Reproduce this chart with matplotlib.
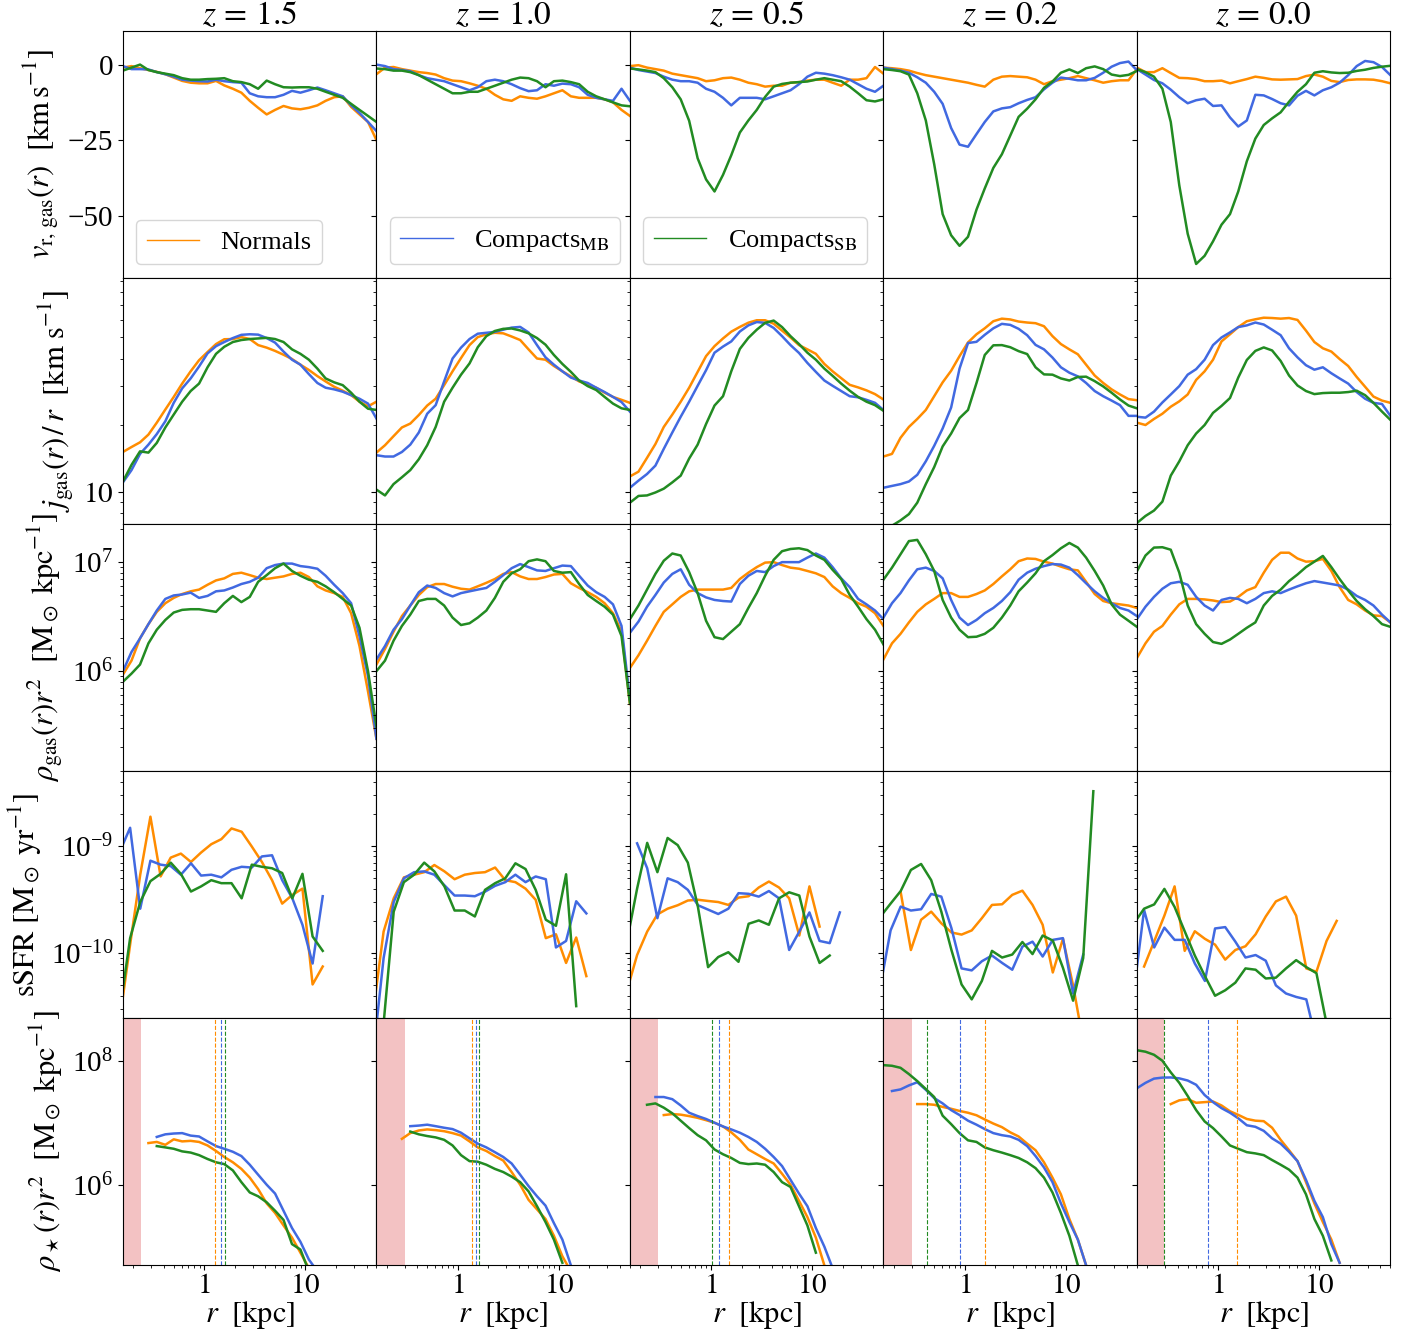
import matplotlib
matplotlib.use("Agg")
import matplotlib.pyplot as plt
import numpy as np
from matplotlib import ticker
from matplotlib.lines import Line2D

nan = np.nan

REDSHIFTS = ["1.5", "1.0", "0.5", "0.2", "0.0"]
LABELS = ["Normals", r"Compacts$_{\rm MB}$", r"Compacts$_{\rm SB}$"]
COLORS = ["darkorange", "royalblue", "forestgreen"]

# radial bins [kpc]
R = [0.158, 0.192, 0.233, 0.282, 0.341, 0.414, 0.501, 0.607, 0.736, 0.891,
     1.08, 1.31, 1.58, 1.92, 2.33, 2.82, 3.41, 4.14, 5.01, 6.07, 7.36, 8.91,
     10.8, 13.1, 15.8, 19.2, 23.3, 28.2, 34.1, 41.4, 50.1]
R_SSFR = [0.148, 0.186, 0.234, 0.295, 0.372, 0.468, 0.589, 0.741, 0.933, 1.175,
          1.479, 1.862, 2.344, 2.951, 3.715, 4.677, 5.888, 7.413, 9.333, 11.75,
          14.79, 18.62]

# radial gas velocity [km/s], one list per redshift
VR_NORMALS = [
    [-1, -0.5, -1.2, -1.8, -2.4, -3.2, -4.3, -5.4, -6, -6.2, -6.2, -5.4, -6.9, -8, -9.3, -12, -14.3, -16.5, -15, -13.7, -14.5, -14.8, -14.3, -13.5, -12, -10.8, -10.5, -14, -16.5, -19, -25],
    [-3.2, -1, -0.8, -1.5, -2, -2.5, -2.8, -3.3, -4.5, -5.3, -5.5, -6.2, -7, -8, -10, -11.5, -12, -10.5, -11, -11.3, -10.5, -9.5, -8.5, -10.5, -11, -11, -11, -11.5, -12.5, -15, -17],
    [-0.5, -0.2, -1, -1.5, -2, -3, -3.5, -4, -4.5, -5.5, -5.2, -4.5, -4.3, -5, -6, -6.5, -7.3, -7, -7, -6, -5.8, -5.3, -5, -5, -6, -7, -5, -5, -4.5, -0.8, -3],
    [-1, -1.2, -1.5, -2, -2.8, -3.5, -4, -4.5, -5, -5.5, -6, -6.7, -7.3, -5, -4, -3.8, -4, -4.2, -5, -6.5, -5.5, -5, -4.5, -3.8, -4.5, -5.2, -6, -5.5, -5.2, -5.2, -1.5],
    [-1, -2.5, -2.5, -1.2, -2.8, -4.4, -4.5, -4.8, -5.5, -5.5, -5.3, -6.2, -5.5, -4.8, -4, -4.4, -4.9, -5, -4.9, -4.8, -3.8, -3.3, -4, -5.4, -5.8, -5.1, -4.9, -4.9, -5, -5.5, -6.2],
]
VR_MB = [
    [-0.5, -1.5, -1.5, -1.6, -2.5, -3.2, -4, -5, -5.3, -5.5, -5.6, -5, -5.5, -5.8, -6, -9.5, -10.5, -10.8, -10.8, -10, -8.7, -9.3, -8.5, -7.6, -8.5, -9.5, -10.5, -13.5, -16, -19, -22],
    [0, -0.5, -1.5, -1.8, -2.2, -3.5, -4.5, -5, -5.5, -6.5, -7.5, -8.5, -7.5, -5.5, -5, -5.5, -6.5, -7.8, -8.8, -8.5, -6.5, -7, -6.3, -6.5, -7.5, -10, -11, -11.5, -12, -8, -12],
    [-1, -1.8, -2.3, -2.8, -4, -5, -5.5, -5.5, -6, -8, -9, -11, -13.5, -11, -11, -11, -11.5, -10.5, -9.5, -8.5, -6.5, -4, -2.7, -3, -3.5, -4.2, -5, -6.5, -8, -9, -7],
    [-1, -1.5, -2, -2.7, -4.2, -6, -9, -13, -21, -26.5, -27.2, -23, -19, -15.5, -14.5, -14.1, -12.8, -11.7, -10.8, -8.2, -6, -4.3, -4.7, -5.2, -5.2, -4.4, -2.7, -0.7, 0.5, 1, -1.9],
    [-1.5, -3.3, -5.1, -6.2, -8.3, -10.8, -12.8, -11.8, -11.3, -13.7, -13.5, -17.5, -20.5, -18.5, -10, -10.2, -11.4, -12.8, -13.5, -10.3, -8.7, -10.2, -8.5, -7.5, -6, -3.5, -0.5, 1.2, 0.8, -0.8, -3.5],
]
VR_SB = [
    [-2, -1, 0, -1.8, -2.5, -3, -3.5, -4.5, -5, -5, -4.8, -4.7, -4.5, -5.5, -5.8, -6.5, -8, -5.3, -6.5, -7.5, -7.6, -7.5, -7.5, -8, -9, -10, -11, -13, -15, -17, -19],
    [-1.3, -1.5, -2, -2, -2.5, -3.5, -5, -6.5, -8, -9.5, -9.5, -9, -9, -8, -7, -6, -5, -4.3, -4.5, -5.5, -7.5, -5.5, -5.3, -5.8, -6.5, -9, -10.5, -11.5, -12.5, -13.5, -13.8],
    [-1.3, -1.6, -2, -2.5, -4.5, -7.5, -11.5, -18.6, -31, -38, -42, -36.5, -30, -22.5, -18.5, -15, -10.7, -7.3, -6.4, -6, -5.8, -5.6, -5, -4.5, -5, -5.5, -7.3, -9.5, -11.8, -12.2, -11.5],
    [-1.5, -1.8, -2.2, -3.3, -9.5, -18.5, -33, -49.5, -56.5, -60, -57, -48, -41, -34.2, -29.7, -23.5, -17.3, -14.6, -11.5, -7.7, -5.6, -2.7, -1.6, -2.8, -1.2, -0.6, -1.5, -3.3, -3.8, -3.4, -2.1],
    [-1.5, -2.5, -4, -8, -19, -40, -56, -66, -63.3, -58.5, -53, -49.5, -42, -32, -24.5, -20, -17.8, -15.8, -12.3, -9, -6.5, -2.7, -2.2, -2.6, -2.8, -2.7, -2.1, -1.7, -1.1, -0.7, -0.4],
]

# specific angular momentum over radius [km/s]
J_NORMALS = [
    [15.1, 15.9, 16.7, 18.1, 20.5, 23.5, 26.8, 30.8, 35, 39.3, 42.8, 46.5, 48.9, 49, 50, 49, 46, 44.8, 43.3, 41.6, 39.8, 37.5, 35.5, 33.3, 31.5, 29.8, 28.6, 27.3, 25.5, 24.3, 25.5],
    [15, 16.2, 17.8, 19.5, 20.3, 22.2, 24.5, 26.3, 30.3, 35, 40.2, 46, 50, 51.5, 52.3, 52, 50.3, 48.5, 44, 40, 39.5, 37, 35, 33.2, 31.5, 30.5, 29.5, 28, 26.8, 26, 25.2],
    [11.7, 12.3, 14.2, 16.4, 19.6, 22.3, 25.5, 29.5, 34.8, 41, 45.5, 49.3, 52.9, 55.6, 58.1, 59.6, 59.6, 57.5, 53.5, 49.8, 46, 44, 42, 37.8, 35, 32.6, 30.4, 29.6, 28.7, 27.6, 26.1],
    [14.4, 14.8, 17.5, 19.6, 21.3, 23.4, 27, 31.2, 35.2, 41, 47.3, 51.5, 54.8, 59, 60.6, 60.1, 58.8, 58.2, 57.8, 56, 50.5, 46.5, 44, 41.8, 37.5, 33.5, 31, 29, 27.5, 26.2, 25.9],
    [20.5, 20, 21.3, 22.5, 24.2, 25.6, 27.5, 32, 35, 39.5, 47.8, 51.5, 55.5, 59, 60.2, 61.2, 61, 60.6, 61, 59.8, 53.5, 47.5, 44.5, 43, 39.8, 37, 33, 29.8, 26.9, 25.8, 25.2],
]
J_MB = [
    [11, 12.5, 14.8, 16.3, 18.2, 20.8, 25.2, 29.3, 32.5, 36.8, 42.2, 45.5, 47.5, 49.5, 51.2, 51.5, 51.3, 49.5, 47.2, 43, 39.5, 37.5, 34, 31, 29.5, 29, 28.3, 27.3, 26.3, 25, 21.4],
    [14.6, 14.4, 14.4, 15.1, 16.3, 18.5, 22.5, 24.6, 31.5, 40, 44.8, 49, 51.8, 52.3, 52.8, 54, 55.2, 55.6, 52.5, 46, 40.5, 37.5, 35, 32.8, 31.8, 31, 29.5, 28.2, 26.8, 25.4, 23],
    [10.4, 11.2, 12, 13.1, 15.6, 18.5, 21.8, 25.5, 30.1, 35.4, 42.5, 45.3, 47.8, 53, 56.5, 58.5, 58, 55, 50.5, 46, 42.4, 38.2, 34.8, 31.8, 30.1, 28.5, 27, 26.7, 26, 25.2, 23.4],
    [10.4, 10.6, 10.8, 11.1, 11.9, 13.7, 16.1, 19.3, 24, 36, 47, 47.6, 51.2, 54.8, 57.4, 56.8, 54.5, 51, 46.1, 44, 40.4, 36.5, 34.5, 33.2, 31, 28.5, 27, 25.8, 24.6, 22, 22],
    [21.8, 21.6, 23, 25.3, 27.5, 30, 33.8, 35.8, 39.5, 46, 49.8, 52.5, 55.5, 56.5, 58.2, 57, 54, 51, 44.5, 40.5, 37.3, 35.6, 36.5, 34.3, 32.5, 30.8, 28.2, 26.3, 25.2, 24.9, 22],
]
J_SB = [
    [11.1, 13.2, 15.2, 15, 16.6, 19.5, 22.3, 25.5, 28.5, 30.8, 36.5, 42, 45.2, 47.5, 48.5, 49, 49.3, 49.6, 49, 47.5, 44, 42, 39.5, 36, 32.5, 31.2, 30.3, 28, 25.5, 23.7, 23.4],
    [10.2, 9.6, 10.8, 11.6, 12.5, 14, 16.2, 19.6, 25.5, 29.5, 33.8, 38, 45, 50.5, 53.3, 54.5, 54.7, 53.6, 52, 49.5, 46.2, 41.5, 37.8, 34.8, 31.8, 30, 28.8, 26.8, 25, 23.8, 23.4],
    [8.9, 9.55, 9.6, 9.9, 10.3, 11, 11.8, 14.1, 16.3, 20.2, 24.5, 27, 35, 44.2, 49.6, 54, 58, 59.4, 55.5, 50.5, 46.5, 42.5, 39.5, 36, 33.4, 30.8, 28.6, 26.8, 25.5, 24.6, 23.2],
    [6.8, 7.0, 7.4, 7.9, 8.9, 10.8, 12.9, 16, 18.3, 21.5, 23.4, 31, 41.5, 45.9, 46, 45, 43.2, 41.9, 36.5, 33.9, 33.8, 32.5, 31.8, 33, 33.1, 31.6, 29.9, 28, 26.1, 24.5, 23.8],
    [7.2, 7.75, 8.2, 9, 11.8, 13.7, 16.2, 18.3, 20, 22.7, 24.4, 26.5, 32.8, 39.4, 43.3, 44.9, 43.5, 39, 33.5, 30.2, 28.5, 27.6, 27.9, 28, 28, 28.2, 28.6, 27.3, 25.2, 23, 21.1],
]

# gas density times r^2 [1e6 Msun/kpc]
RHO_GAS_NORMALS = [
    [0.93, 1.25, 2.0, 2.7, 3.5, 4.2, 4.7, 5.1, 5.4, 5.6, 6.2, 6.8, 7.1, 7.8, 8.0, 7.6, 7.2, 7.0, 7.2, 7.4, 7.8, 8.0, 7.3, 6.0, 5.5, 5.2, 4.8, 3.4, 1.7, 0.65, 0.24],
    [1.15, 1.6, 2.3, 3.2, 4.0, 5.0, 5.9, 6.3, 6.3, 5.95, 5.7, 5.6, 6.0, 6.46, 7.0, 7.8, 8.1, 7.4, 7.0, 7.0, 7.3, 7.7, 7.8, 6.4, 5.8, 5.3, 4.8, 4.2, 3.4, 2.3, 0.5],
    [1.07, 1.4, 1.9, 2.6, 3.5, 4.1, 4.8, 5.4, 5.6, 5.6, 5.6, 5.6, 5.8, 7.0, 8.0, 9.0, 9.9, 10, 9.4, 8.9, 8.7, 8.3, 7.9, 7.3, 6.0, 5.2, 4.7, 4.2, 3.9, 3.4, 2.6],
    [1.28, 1.8, 2.2, 2.8, 3.5, 4.1, 4.6, 5.2, 5.2, 4.8, 4.8, 5.1, 5.5, 6.3, 7.4, 8.6, 10.2, 10.8, 10.7, 10.1, 9.7, 9.1, 8.6, 8.4, 6.6, 5.1, 4.4, 4.2, 4.1, 4.0, 3.8],
    [1.32, 1.8, 2.3, 2.6, 3.3, 4.1, 4.6, 4.6, 4.55, 4.45, 4.3, 4.35, 4.8, 5.5, 5.9, 8.0, 10.5, 12.2, 12.2, 10.8, 10.1, 10.2, 10.7, 8.3, 5.9, 4.5, 4.1, 3.6, 3.25, 3.2, 2.8],
]
RHO_GAS_MB = [
    [1.0, 1.5, 2.0, 2.7, 3.6, 4.6, 4.95, 5.05, 5.25, 4.7, 4.9, 5.4, 5.5, 5.85, 6.3, 6.6, 7.2, 8.8, 9.4, 9.7, 9.7, 9.2, 9.0, 8.7, 7.5, 6.2, 5.2, 4.2, 2.1, 0.9, 0.24],
    [1.28, 1.7, 2.4, 3.0, 4.0, 5.3, 6.1, 5.8, 5.2, 4.85, 5.2, 5.4, 5.6, 5.8, 6.6, 7.6, 8.8, 9.6, 9.0, 8.4, 8.3, 8.8, 9.3, 9.2, 7.5, 6.1, 5.3, 4.8, 4.1, 2.6, 0.55],
    [2.25, 2.85, 3.9, 5.0, 6.5, 7.8, 8.6, 6.2, 5.2, 4.75, 4.5, 4.4, 4.35, 6.3, 7.5, 8.3, 8.1, 9.2, 10, 10, 10, 11, 12, 11, 9.0, 7.1, 5.9, 4.6, 4.1, 3.6, 3.0],
    [3.1, 4.2, 5.2, 6.8, 8.6, 8.9, 8.3, 7.1, 4.5, 3.1, 2.65, 2.95, 3.4, 3.8, 4.4, 5.3, 6.9, 8.0, 8.7, 9.2, 9.6, 9.5, 8.9, 7.6, 6.4, 5.4, 4.7, 4.2, 3.8, 3.6, 3.2],
    [3.0, 3.9, 4.8, 5.7, 6.4, 6.6, 6.2, 4.8, 4.0, 3.6, 4.5, 4.7, 4.6, 4.2, 4.6, 5.2, 5.4, 5.2, 5.6, 6.0, 6.4, 6.7, 6.5, 6.3, 6.1, 5.6, 4.9, 4.5, 4.0, 3.3, 2.8],
]
RHO_GAS_SB = [
    [0.8, 0.95, 1.15, 1.8, 2.4, 2.95, 3.45, 3.65, 3.7, 3.7, 3.6, 3.5, 4.2, 4.9, 4.3, 4.8, 6.6, 7.6, 8.8, 9.7, 8.3, 7.5, 6.9, 6.6, 6.0, 5.3, 4.6, 4.0, 2.5, 1.0, 0.31],
    [1.0, 1.25, 1.9, 2.6, 3.3, 4.4, 4.6, 4.6, 4.0, 3.1, 2.65, 2.75, 3.1, 3.6, 4.7, 6.6, 7.9, 8.6, 10.2, 10.6, 10.2, 8.3, 8.0, 8.1, 6.3, 5.0, 4.4, 3.9, 3.3, 2.1, 0.51],
    [3.0, 4.0, 5.6, 7.8, 10.3, 12.0, 11.5, 8.1, 5.2, 2.9, 2.05, 1.97, 2.3, 2.7, 3.8, 5.2, 7.5, 10.5, 12.6, 13.2, 13.4, 12.9, 11.5, 10.5, 8.5, 7.0, 5.0, 3.9, 3.0, 2.4, 1.76],
    [6.9, 8.9, 11.8, 15.6, 16.0, 11.8, 8.3, 4.5, 3.1, 2.4, 2.05, 2.07, 2.2, 2.5, 3.1, 4.0, 5.4, 6.5, 7.9, 10.2, 11.6, 13.4, 15.0, 13.6, 11.0, 8.3, 6.1, 4.1, 3.3, 2.9, 2.55],
    [8.25, 11.5, 13.6, 13.7, 13.0, 8.0, 4.0, 2.7, 2.2, 1.85, 1.78, 1.95, 2.2, 2.5, 2.8, 4.0, 4.9, 5.6, 6.7, 7.7, 9.0, 10.1, 11.4, 9.0, 7.0, 5.5, 4.4, 3.7, 3.2, 2.7, 2.55],
]

# specific star formation rate [1e-10 /yr], on R_SSFR
SSFR_NORMALS = [
    [0.25, 1.2, 5.4, 18.8, 5.2, 7.8, 8.5, 7.1, 8.7, 10.4, 11.6, 14.6, 13.6, 9.9, 7.1, 4.8, 2.9, 3.5, 4.0, 0.51, 0.75],
    [0.3, 1.59, 3.25, 5.1, 5.4, 5.7, 6.65, 5.8, 4.9, 5.4, 5.6, 5.7, 6.3, 4.8, 4.6, 4.0, 3.15, 1.38, 1.5, 0.81, 1.4, 0.61],
    [0.45, 0.96, 1.59, 2.3, 2.6, 2.8, 3.1, 3.15, 3.07, 3.0, 2.82, 3.3, 3.4, 4.1, 4.66, 4.1, 3.25, 1.46, 4.2, 1.77],
    [nan, nan, 3.7, 1.07, 2.05, 2.44, 1.9, 1.56, 1.49, 1.63, 2.12, 2.82, 2.86, 3.5, 3.83, 2.82, 1.84, 0.66, 1.36, 0.5, 0.15],
    [nan, 0.75, 1.29, 2.24, 4.2, 1.05, 1.6, 1.36, 1.2, 0.87, 1.07, 1.16, 1.5, 2.2, 3.04, 3.37, 2.24, 0.72, 0.67, 1.3, 2.0],
]
SSFR_MB = [
    [9, 14.8, 2.6, 7.3, 6.7, 6.5, 5.4, 6.9, 5.3, 5.4, 5.1, 6.0, 6.4, 6.3, 8.0, 8.2, 4.8, 3.25, 1.84, 0.8, 3.4],
    [0.12, 0.9, 3.0, 5.0, 5.7, 5.8, 5.4, 4.3, 3.45, 3.45, 3.4, 3.75, 4.25, 4.6, 5.4, 4.6, 5.2, 4.9, 1.13, 1.3, 3.05, 2.35],
    [nan, 10.6, 6.2, 2.12, 5.0, 4.6, 3.9, 2.8, 2.55, 2.32, 2.6, 3.63, 3.58, 3.37, 3.8, 3.25, 1.07, 1.59, 2.4, 1.3, 1.24, 2.4],
    [0.5, 1.63, 2.72, 2.5, 2.57, 3.57, 3.37, 1.71, 0.72, 0.69, 0.84, 0.95, 0.81, 0.7, 1.15, 1.28, 0.93, 1.33, 1.38, 0.42, 0.97],
    [0.45, 2.53, 1.13, 1.73, 1.33, 1.33, 0.8, 0.55, 1.7, 1.75, 1.28, 0.91, 0.96, 0.85, 0.5, 0.42, 0.39, 0.37, 0.15],
]
SSFR_SB = [
    [0.3, 1.38, 3.0, 4.7, 5.5, 7.0, 5.5, 3.76, 4.2, 4.8, 4.5, 4.5, 3.25, 6.7, 6.4, 6.2, 5.6, 3.25, 5.5, 1.43, 1.05],
    [0.02, 0.22, 2.44, 4.6, 5.4, 7.0, 5.8, 4.2, 2.5, 2.5, 2.2, 3.9, 4.5, 5.0, 6.9, 6.1, 3.9, 2.05, 1.8, 5.45, 0.32],
    [1.3, 4.0, 10.7, 5.7, 11.9, 10.2, 7.0, 2.7, 0.74, 0.92, 1.02, 0.83, 1.88, 2.02, 1.84, 3.25, 3.7, 3.45, 1.43, 0.81, 0.95],
    [2.2, 2.9, 3.8, 5.98, 6.8, 4.8, 2.44, 1.07, 0.51, 0.37, 0.55, 1.05, 0.91, 0.97, 1.27, 0.98, 1.46, 1.31, 0.73, 0.36, 0.9, 32.5],
    [1.9, 2.6, 2.85, 3.98, 2.7, 1.6, 0.95, 0.61, 0.4, 0.45, 0.53, 0.72, 0.7, 0.58, 0.59, 0.72, 0.86, 0.74, 0.65, 0.22],
]

# stellar density times r^2 [1e6 Msun/kpc]
RHO_STAR_NORMALS = [
    [nan, nan, nan, 4.7, 4.9, 4.4, 5.4, 5.0, 5.1, 4.9, 4.3, 3.5, 2.8, 2.3, 1.8, 1.3, 0.85, 0.5, 0.35, 0.22, 0.14, 0.08, 0.045],
    [nan, nan, nan, 5.5, 6.8, 7.5, 7.8, 7.6, 7.3, 6.8, 6.2, 5.0, 4.0, 3.5, 2.9, 2.45, 1.6, 1.0, 0.57, 0.4, 0.28, 0.15, 0.07, 0.04],
    [nan, nan, nan, nan, 13.3, 13.8, 13.5, 12.8, 12.0, 11.0, 10.0, 8.7, 7.0, 5.3, 3.7, 3.1, 2.6, 2.2, 1.5, 1.0, 0.55, 0.3, 0.14, 0.05],
    [nan, nan, nan, nan, 20, 20, 19.5, 18, 16.8, 15.5, 14.5, 13.2, 11.3, 9.7, 8.5, 7.0, 6.0, 4.6, 3.6, 2.3, 1.3, 0.7, 0.28, 0.13, 0.05],
    [nan, nan, nan, nan, 20, 23, 24, 21, 21.5, 22, 19, 15.3, 13.4, 11.5, 10.8, 10.6, 8.3, 5.3, 3.6, 2.4, 1.1, 0.5, 0.25, 0.13, 0.055],
]
RHO_STAR_MB = [
    [nan, nan, nan, nan, 5.9, 6.5, 6.7, 6.8, 6.2, 6.0, 5.0, 4.2, 3.8, 3.4, 2.9, 2.1, 1.45, 1.0, 0.72, 0.38, 0.2, 0.12, 0.062, 0.04],
    [nan, nan, nan, nan, 8.8, 9.0, 9.3, 8.8, 8.3, 7.9, 6.9, 5.6, 4.6, 4.0, 3.35, 2.8, 2.2, 1.45, 0.95, 0.65, 0.46, 0.24, 0.13, 0.05],
    [nan, nan, nan, 26, 26, 24, 19, 14.5, 12.8, 11.5, 10, 8.7, 7.8, 6.9, 5.9, 4.9, 3.8, 2.8, 2.0, 1.2, 0.72, 0.45, 0.2, 0.1, 0.045],
    [nan, 32.5, 34.5, 40, 45, 34, 25, 20.5, 16, 13.3, 10.8, 9.3, 7.9, 6.8, 6.3, 6.0, 5.3, 4.2, 2.9, 1.9, 1.1, 0.5, 0.25, 0.13, 0.05],
    [36, 44, 51.5, 53.5, 53.8, 52, 48, 41, 28, 21.5, 17.2, 14.5, 11.8, 9.1, 8.6, 7.4, 5.6, 4.6, 3.4, 2.4, 1.2, 0.55, 0.3, 0.11, 0.055],
]
RHO_STAR_SB = [
    [nan, nan, nan, nan, 4.2, 4.0, 3.8, 3.45, 3.3, 3.0, 2.6, 2.3, 2.15, 1.7, 1.1, 0.75, 0.65, 0.52, 0.38, 0.27, 0.11, 0.09, 0.04],
    [nan, nan, nan, nan, 7.2, 6.5, 6.1, 5.8, 5.3, 4.3, 3.0, 2.4, 2.35, 2.1, 1.8, 1.6, 1.35, 1.1, 0.78, 0.45, 0.25, 0.13, 0.055],
    [nan, nan, 19.5, 20.5, 17.5, 14.2, 10.8, 8.2, 6.3, 5.2, 3.7, 3.1, 2.7, 2.25, 2.15, 2.2, 2.1, 1.6, 1.1, 0.92, 0.45, 0.22, 0.08],
    [85, 83, 77, 61, 47, 35, 26, 13, 9.5, 6.8, 5.2, 4.9, 4.0, 3.6, 3.3, 3.0, 2.7, 2.3, 1.85, 1.3, 0.75, 0.35, 0.15, 0.05],
    [148, 140, 125, 100, 65, 44, 27, 16, 10.5, 8.2, 6.0, 4.3, 3.8, 3.35, 3.2, 3.0, 2.5, 2.1, 1.75, 1.3, 0.7, 0.28, 0.15, 0.06],
]

# half-mass radii [kpc] and softening scale [kpc] per redshift
R_HALF_NORMALS = [1.29, 1.38, 1.49, 1.58, 1.55]
R_HALF_MB = [1.46, 1.51, 1.2, 0.9, 0.8]
R_HALF_SB = [1.6, 1.63, 1.03, 0.43, 0.295]
R_SOFT = [0.24, 0.30, 0.30, 0.30, 0.295]

YLABELS = [
    r"$v_{\rm r,\,gas}(r)\ \ [{\rm km\,s^{-1}}]$",
    r"$j_{\rm gas}(r)\,/\,r\ \ [{\rm km\ s^{-1}}]$",
    r"$\rho_{\rm gas}(r)r^2\ \ [{\rm M_\odot\ kpc^{-1}}]$",
    r"${\rm sSFR}\ [{\rm M_\odot\ yr^{-1}}]$",
    r"$\rho_\star(r)r^2\ \ [{\rm M_\odot\ kpc^{-1}}]$",
]


def as_array(values, n, scale):
    v = np.full(n, np.nan)
    v[:len(values)] = values
    return v * scale


plt.rcParams.update({
    "font.family": "serif",
    "font.serif": ["Liberation Serif", "DejaVu Serif"],
    "mathtext.fontset": "stix",
    "xtick.labelsize": 21,
    "ytick.labelsize": 21,
    "xtick.major.pad": 2.5,
    "axes.labelsize": 22,
    "axes.titlesize": 24,
    "legend.fontsize": 19,
})

rows = [
    (R, [VR_NORMALS, VR_MB, VR_SB], 1.0, "linear", (-70.5, 11.2)),
    (R, [J_NORMALS, J_MB, J_SB], 1.0, "log", (7.1, 93)),
    (R, [RHO_GAS_NORMALS, RHO_GAS_MB, RHO_GAS_SB], 1e6, "log", (1.21e5, 2.22e7)),
    (R_SSFR, [SSFR_NORMALS, SSFR_MB, SSFR_SB], 1e-10, "log", (2.48e-11, 5.0e-9)),
    (R, [RHO_STAR_NORMALS, RHO_STAR_MB, RHO_STAR_SB], 1e6, "log", (5.1e4, 4.9e8)),
]

fig, axes = plt.subplots(5, 5, figsize=(14.13, 13.37), dpi=100,
                         sharex=True, sharey="row")
fig.subplots_adjust(left=0.087, right=0.984, top=0.977, bottom=0.054,
                    wspace=0, hspace=0)

for i, (radii, series, scale, yscale, ylim) in enumerate(rows):
    r = np.array(radii)
    for j in range(5):
        ax = axes[i, j]
        for data, color in zip(series, COLORS):
            ax.plot(r, as_array(data[j], len(r), scale), color=color, lw=1.8)
        ax.set_yscale(yscale)
        ax.set_ylim(*ylim)

    if i == 0:
        axes[i, 0].yaxis.set_major_locator(ticker.MultipleLocator(25))
    elif i == 1:
        axes[i, 0].yaxis.set_major_formatter(
            ticker.FuncFormatter(lambda v, _: f"${v:g}$"))
        axes[i, 0].yaxis.set_minor_formatter(ticker.NullFormatter())
    elif i == 4:
        axes[i, 0].yaxis.set_major_locator(ticker.LogLocator(base=100))
        axes[i, 0].yaxis.set_minor_locator(ticker.NullLocator())
    else:
        axes[i, 0].yaxis.set_minor_formatter(ticker.NullFormatter())
    axes[i, 0].set_ylabel(YLABELS[i], labelpad=5)

for j in range(5):
    ax = axes[4, j]
    ax.axvspan(0.1, R_SOFT[j], color="tab:red", alpha=0.28, lw=0)
    for rh, color in zip([R_HALF_NORMALS, R_HALF_MB, R_HALF_SB], COLORS):
        ax.axvline(rh[j], color=color, ls="--", lw=0.8)
    ax.set_xlabel(r"$r\ \ [{\rm kpc}]$", labelpad=0)
    axes[0, j].set_title(rf"$z\, =\, {REDSHIFTS[j]}$", pad=3)

axes[0, 0].set_xscale("log")
axes[0, 0].set_xlim(0.158, 50.1)
axes[0, 0].xaxis.set_major_formatter(ticker.FuncFormatter(lambda v, _: f"${v:g}$"))
axes[0, 0].xaxis.set_minor_formatter(ticker.NullFormatter())

for j in range(3):
    handle = Line2D([], [], color=COLORS[j], lw=1)
    axes[0, j].legend([handle], [LABELS[j]], loc="lower left")

fig.savefig("out.png", dpi=100)
